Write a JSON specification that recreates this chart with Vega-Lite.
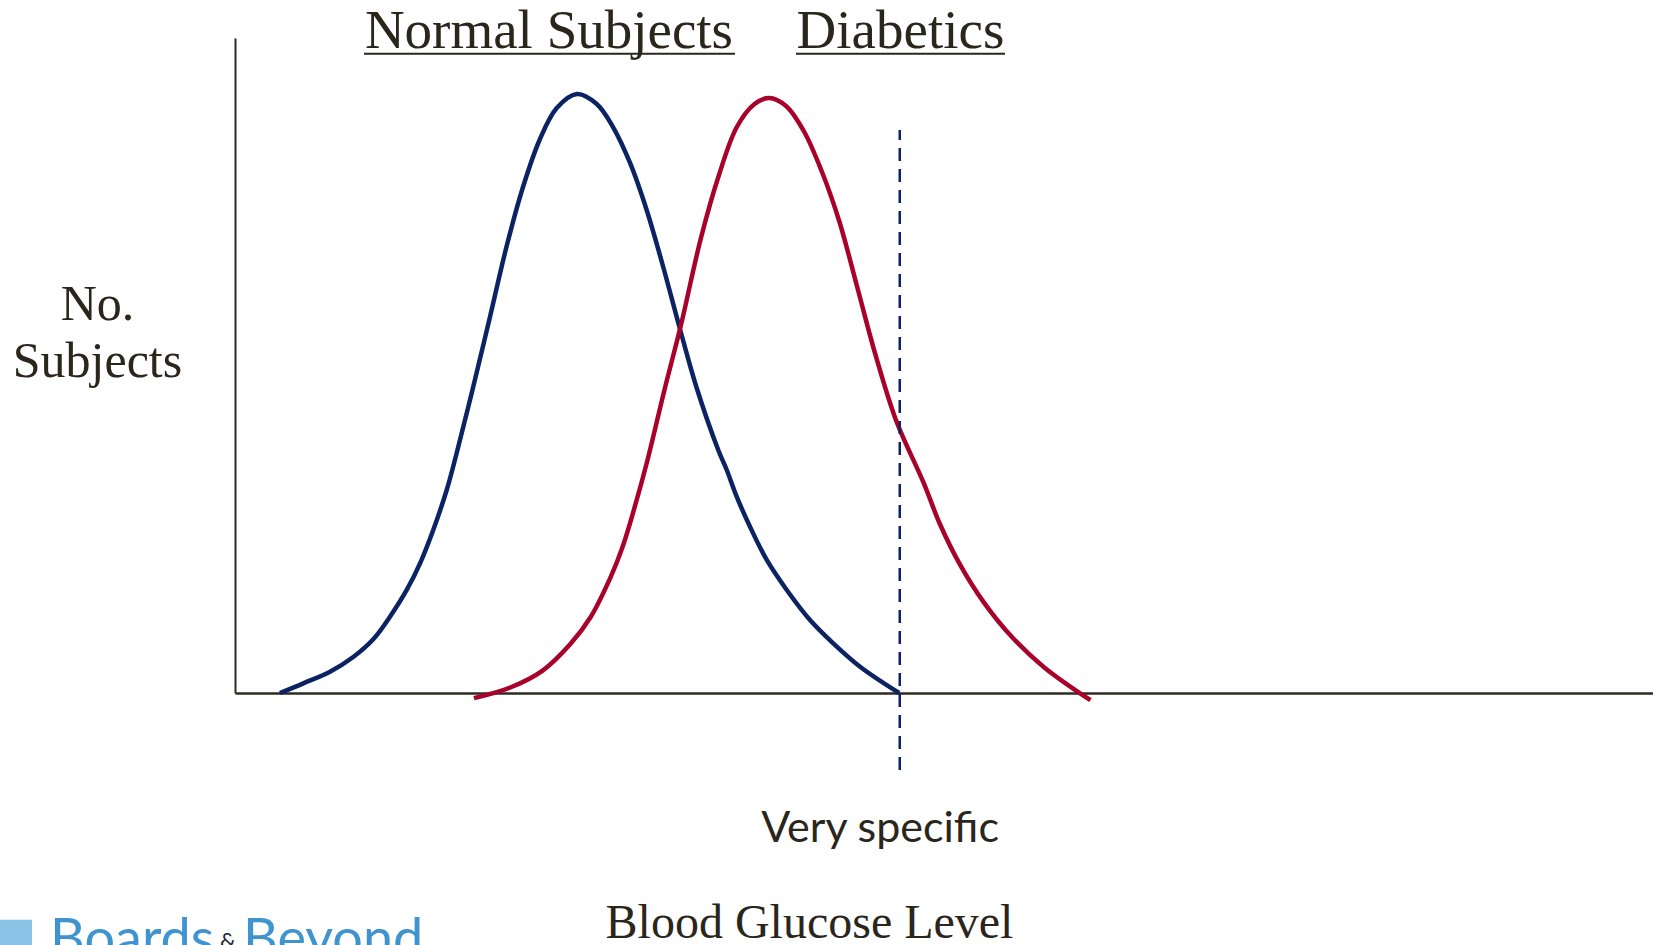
{
  "$schema": "https://vega.github.io/schema/vega-lite/v6.json",
  "autosize": {"type": "none"},
  "width": 1418,
  "height": 655,
  "padding": {"left": 235, "top": 38, "right": 0, "bottom": 252},
  "background": "#ffffff",
  "config": {"view": {"stroke": null}},
  "datasets": {
    "curves": [
      {"g": "Normal Subjects", "x": 3.17, "y": 0},
      {"g": "Normal Subjects", "x": 4.82, "y": 1.48},
      {"g": "Normal Subjects", "x": 6.7, "y": 3.25},
      {"g": "Normal Subjects", "x": 8.34, "y": 5.5},
      {"g": "Normal Subjects", "x": 9.75, "y": 8.2},
      {"g": "Normal Subjects", "x": 10.93, "y": 11.65},
      {"g": "Normal Subjects", "x": 12.11, "y": 15.73},
      {"g": "Normal Subjects", "x": 13.05, "y": 19.8},
      {"g": "Normal Subjects", "x": 13.98, "y": 24.89},
      {"g": "Normal Subjects", "x": 14.93, "y": 30.99},
      {"g": "Normal Subjects", "x": 15.63, "y": 36.6},
      {"g": "Normal Subjects", "x": 16.78, "y": 46.56},
      {"g": "Normal Subjects", "x": 17.98, "y": 57.4},
      {"g": "Normal Subjects", "x": 19.16, "y": 68.24},
      {"g": "Normal Subjects", "x": 20.31, "y": 77.25},
      {"g": "Normal Subjects", "x": 21.51, "y": 84.58},
      {"g": "Normal Subjects", "x": 22.69, "y": 89.31},
      {"g": "Normal Subjects", "x": 24.12, "y": 91.45},
      {"g": "Normal Subjects", "x": 25.51, "y": 89.92},
      {"g": "Normal Subjects", "x": 26.66, "y": 86.41},
      {"g": "Normal Subjects", "x": 27.86, "y": 80.92},
      {"g": "Normal Subjects", "x": 29.03, "y": 73.74},
      {"g": "Normal Subjects", "x": 30.18, "y": 65.19},
      {"g": "Normal Subjects", "x": 31.38, "y": 55.57},
      {"g": "Normal Subjects", "x": 32.56, "y": 46.56},
      {"g": "Normal Subjects", "x": 34.08, "y": 37.1},
      {"g": "Normal Subjects", "x": 34.68, "y": 34.05},
      {"g": "Normal Subjects", "x": 35.38, "y": 29.97},
      {"g": "Normal Subjects", "x": 36.32, "y": 25.39},
      {"g": "Normal Subjects", "x": 37.5, "y": 20.31},
      {"g": "Normal Subjects", "x": 38.91, "y": 15.73},
      {"g": "Normal Subjects", "x": 40.55, "y": 11.15},
      {"g": "Normal Subjects", "x": 42.19, "y": 7.59},
      {"g": "Normal Subjects", "x": 44.08, "y": 4.02},
      {"g": "Normal Subjects", "x": 46.84, "y": 0},
      {"g": "Diabetics", "x": 16.85, "y": -0.79},
      {"g": "Diabetics", "x": 19.41, "y": 0.84},
      {"g": "Diabetics", "x": 21.67, "y": 3.39},
      {"g": "Diabetics", "x": 23.65, "y": 7.48},
      {"g": "Diabetics", "x": 25.07, "y": 11.56},
      {"g": "Diabetics", "x": 26.49, "y": 17.69},
      {"g": "Diabetics", "x": 27.33, "y": 22.29},
      {"g": "Diabetics", "x": 28.19, "y": 28.41},
      {"g": "Diabetics", "x": 29.06, "y": 35.3},
      {"g": "Diabetics", "x": 30.32, "y": 46.56},
      {"g": "Diabetics", "x": 31.45, "y": 56.18},
      {"g": "Diabetics", "x": 32.86, "y": 69.47},
      {"g": "Diabetics", "x": 34.13, "y": 79.08},
      {"g": "Diabetics", "x": 35.39, "y": 86.41},
      {"g": "Diabetics", "x": 36.64, "y": 89.92},
      {"g": "Diabetics", "x": 37.66, "y": 90.84},
      {"g": "Diabetics", "x": 38.86, "y": 89.62},
      {"g": "Diabetics", "x": 40.11, "y": 85.8},
      {"g": "Diabetics", "x": 41.37, "y": 79.69},
      {"g": "Diabetics", "x": 42.63, "y": 71.91},
      {"g": "Diabetics", "x": 43.86, "y": 62.14},
      {"g": "Diabetics", "x": 45.13, "y": 51.91},
      {"g": "Diabetics", "x": 46.61, "y": 41.68},
      {"g": "Diabetics", "x": 48.58, "y": 32.0},
      {"g": "Diabetics", "x": 49.71, "y": 25.8},
      {"g": "Diabetics", "x": 51.13, "y": 19.6},
      {"g": "Diabetics", "x": 52.82, "y": 13.8},
      {"g": "Diabetics", "x": 54.81, "y": 8.5},
      {"g": "Diabetics", "x": 57.07, "y": 3.91},
      {"g": "Diabetics", "x": 60.33, "y": -1.1}
    ],
    "cutoff": [{"x": 46.88, "y": -11.76, "y2": 85.95}],
    "headings": [
      {"label": "Normal Subjects", "x": 22.14, "y": 98.5, "x1": 9.1, "x2": 35.26, "u": 97.6},
      {"label": "Diabetics", "x": 46.93, "y": 98.5, "x1": 39.56, "x2": 54.3, "u": 97.6}
    ],
    "notes": [{"label": "Very specific", "x": 45.49, "y": -22.75}],
    "logo": [
      {"part": "Boards", "x": -13.05, "y": -40.3},
      {"part": "Beyond", "x": 0.56, "y": -40.3}
    ],
    "logoamp": [{"part": "&", "x": -1.06, "y": -38.9}],
    "logoicon": [{"x": -15.51, "y": -37.2}]
  },
  "layer": [
    {
      "data": {"name": "curves"},
      "mark": {"type": "line", "strokeWidth": 4.5, "interpolate": "catmull-rom", "clip": false},
      "encoding": {
        "x": {
          "field": "x", "type": "quantitative",
          "scale": {"domain": [0, 100], "nice": false, "zero": false},
          "axis": {
            "domain": true, "domainColor": "#2f2b22", "domainWidth": 2.5,
            "ticks": false, "labels": false, "grid": false,
            "title": "Blood Glucose Level",
            "titleFont": "Liberation Serif", "titleFontSize": 48, "titleFontWeight": "normal",
            "titleColor": "#2b261c", "titleX": 574, "titleY": 244,
            "titleAlign": "center", "titleBaseline": "alphabetic"
          }
        },
        "y": {
          "field": "y", "type": "quantitative",
          "scale": {"domain": [0, 100], "nice": false, "zero": false},
          "axis": {
            "domain": true, "domainColor": "#2f2b22", "domainWidth": 2,
            "ticks": false, "labels": false, "grid": false,
            "title": ["No.", "Subjects"],
            "titleAngle": 0,
            "titleFont": "Liberation Serif", "titleFontSize": 50, "titleFontWeight": "normal",
            "titleColor": "#2b261c", "titleX": -138, "titleY": 281,
            "titleAlign": "center", "titleBaseline": "alphabetic", "titleLineHeight": 57
          }
        },
        "color": {
          "field": "g", "type": "nominal",
          "scale": {"domain": ["Normal Subjects", "Diabetics"], "range": ["#0b2362", "#a8022b"]},
          "legend": null
        },
        "order": {"field": "x", "type": "quantitative"}
      }
    },
    {
      "data": {"name": "cutoff"},
      "mark": {"type": "rule", "color": "#0b2362", "strokeWidth": 2.5, "strokeDash": [13, 8], "clip": false},
      "encoding": {
        "x": {"field": "x", "type": "quantitative"},
        "y": {"field": "y", "type": "quantitative"},
        "y2": {"field": "y2"}
      }
    },
    {
      "data": {"name": "headings"},
      "mark": {"type": "text", "font": "Liberation Serif", "fontSize": 55, "color": "#2b261c", "align": "center", "baseline": "alphabetic", "clip": false},
      "encoding": {
        "x": {"field": "x", "type": "quantitative"},
        "y": {"field": "y", "type": "quantitative"},
        "text": {"field": "label"}
      }
    },
    {
      "data": {"name": "headings"},
      "mark": {"type": "rule", "color": "#2b261c", "strokeWidth": 2, "clip": false},
      "encoding": {
        "x": {"field": "x1", "type": "quantitative"},
        "x2": {"field": "x2"},
        "y": {"field": "u", "type": "quantitative"}
      }
    },
    {
      "data": {"name": "notes"},
      "mark": {"type": "text", "font": "Lato", "fontSize": 43, "color": "#2b261c", "align": "center", "baseline": "alphabetic", "clip": false},
      "encoding": {
        "x": {"field": "x", "type": "quantitative"},
        "y": {"field": "y", "type": "quantitative"},
        "text": {"field": "label"}
      }
    },
    {
      "data": {"name": "logoicon"},
      "mark": {"type": "point", "shape": "square", "size": 1150, "filled": true, "color": "#7dbbe6", "opacity": 0.9, "clip": false},
      "encoding": {
        "x": {"field": "x", "type": "quantitative"},
        "y": {"field": "y", "type": "quantitative"}
      }
    },
    {
      "data": {"name": "logo"},
      "mark": {"type": "text", "font": "Lato", "fontSize": 54, "color": "#3f94cf", "align": "left", "baseline": "alphabetic", "clip": false},
      "encoding": {
        "x": {"field": "x", "type": "quantitative"},
        "y": {"field": "y", "type": "quantitative"},
        "text": {"field": "part"}
      }
    },
    {
      "data": {"name": "logoamp"},
      "mark": {"type": "text", "font": "Lato", "fontSize": 22, "color": "#1e2a38", "align": "left", "baseline": "alphabetic", "clip": false},
      "encoding": {
        "x": {"field": "x", "type": "quantitative"},
        "y": {"field": "y", "type": "quantitative"},
        "text": {"field": "part"}
      }
    }
  ]
}
